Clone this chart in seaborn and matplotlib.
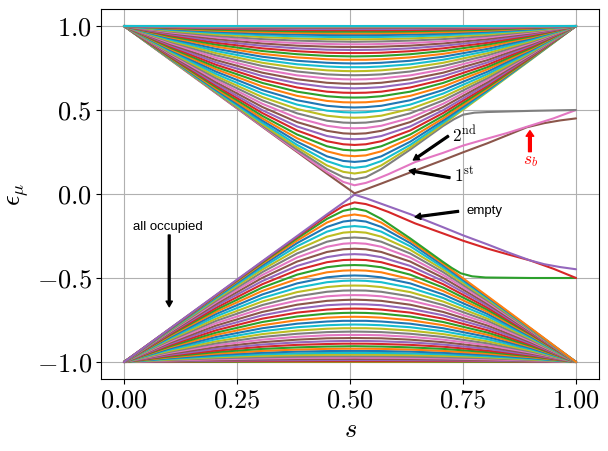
"""Single-particle levels eps_mu(s) along the interpolation path."""

import matplotlib

matplotlib.use("Agg")
import matplotlib.pyplot as plt
import pandas as pd
import seaborn as sns

# shared s nodes of the ordinary levels (the gap closes near s = 0.51)
s_grid = [0.0, 0.102, 0.204, 0.306, 0.383, 0.449, 0.485, 0.51,
          0.535, 0.569, 0.633, 0.706, 0.804, 0.902, 1.0]

# ordinary levels of the upper band, from the gap outwards (mu = 4 .. 45)
upper_levels = [
    [1, .803, .608, .415, .277, .170, .132, .122, .132, .170, .277, .415, .608, .803, 1],
    [1, .806, .613, .425, .292, .196, .164, .156, .164, .196, .292, .425, .613, .806, 1],
    [1, .808, .619, .437, .311, .224, .197, .191, .197, .224, .311, .437, .619, .808, 1],
    [1, .811, .626, .450, .332, .254, .230, .225, .230, .254, .332, .450, .626, .811, 1],
    [1, .815, .635, .465, .354, .284, .263, .259, .263, .284, .354, .465, .635, .815, 1],
    [1, .819, .644, .482, .378, .314, .296, .292, .296, .314, .378, .482, .644, .819, 1],
    [1, .824, .654, .499, .402, .345, .329, .326, .329, .345, .402, .499, .654, .824, 1],
    [1, .828, .665, .518, .428, .376, .361, .358, .361, .376, .428, .518, .665, .828, 1],
    [1, .834, .677, .537, .453, .406, .393, .391, .393, .406, .453, .537, .677, .834, 1],
    [1, .839, .689, .557, .480, .436, .425, .423, .425, .436, .480, .557, .689, .839, 1],
    [1, .845, .701, .577, .506, .466, .456, .454, .456, .466, .506, .577, .701, .845, 1],
    [1, .851, .714, .598, .532, .496, .487, .485, .487, .496, .532, .598, .714, .851, 1],
    [1, .858, .728, .619, .558, .525, .517, .515, .517, .525, .558, .619, .728, .858, 1],
    [1, .864, .742, .640, .584, .554, .546, .545, .546, .554, .584, .640, .742, .864, 1],
    [1, .871, .755, .661, .609, .582, .575, .574, .575, .582, .609, .661, .755, .871, 1],
    [1, .878, .769, .681, .634, .609, .603, .602, .603, .609, .634, .681, .769, .878, 1],
    [1, .885, .783, .702, .659, .636, .631, .629, .631, .636, .659, .702, .783, .885, 1],
    [1, .892, .797, .722, .683, .662, .657, .656, .657, .662, .683, .722, .797, .892, 1],
    [1, .899, .811, .742, .706, .688, .683, .682, .683, .688, .706, .742, .811, .899, 1],
    [1, .906, .825, .762, .729, .712, .708, .707, .708, .712, .729, .762, .825, .906, 1],
    [1, .912, .838, .781, .751, .736, .732, .731, .732, .736, .751, .781, .838, .912, 1],
    [1, .919, .851, .799, .772, .759, .755, .755, .755, .759, .772, .799, .851, .919, 1],
    [1, .926, .864, .817, .793, .781, .778, .777, .778, .781, .793, .817, .864, .926, 1],
    [1, .933, .877, .834, .813, .802, .799, .799, .799, .802, .813, .834, .877, .933, 1],
    [1, .939, .889, .851, .832, .822, .820, .819, .820, .822, .832, .851, .889, .939, 1],
    [1, .945, .900, .867, .850, .841, .839, .839, .839, .841, .850, .867, .900, .945, 1],
    [1, .951, .911, .882, .867, .859, .858, .857, .858, .859, .867, .882, .911, .951, 1],
    [1, .957, .922, .896, .883, .877, .875, .875, .875, .877, .883, .896, .922, .957, 1],
    [1, .962, .932, .909, .898, .893, .891, .891, .891, .893, .898, .909, .932, .962, 1],
    [1, .967, .941, .922, .913, .908, .907, .906, .907, .908, .913, .922, .941, .967, 1],
    [1, .972, .950, .934, .926, .922, .921, .921, .921, .922, .926, .934, .950, .972, 1],
    [1, .977, .958, .945, .938, .935, .934, .934, .934, .935, .938, .945, .958, .977, 1],
    [1, .981, .966, .954, .949, .946, .946, .946, .946, .946, .949, .954, .966, .981, 1],
    [1, .985, .972, .963, .959, .957, .956, .956, .956, .957, .959, .963, .972, .985, 1],
    [1, .988, .978, .972, .968, .966, .966, .966, .966, .966, .968, .972, .978, .988, 1],
    [1, .991, .984, .979, .976, .975, .975, .974, .975, .975, .976, .979, .984, .991, 1],
    [1, .993, .988, .985, .983, .982, .982, .982, .982, .982, .983, .985, .988, .993, 1],
    [1, .996, .992, .990, .989, .988, .988, .988, .988, .988, .989, .990, .992, .996, 1],
    [1, .997, .995, .994, .993, .993, .993, .993, .993, .993, .993, .994, .995, .997, 1],
    [1, .999, .998, .997, .996, .996, .996, .996, .996, .996, .996, .997, .998, .999, 1],
    [1, 1.0, .999, .999, .999, .999, .999, .999, .999, .999, .999, .999, .999, 1.0, 1],
    [1, 1.0, 1.0, 1.0, 1.0, 1.0, 1.0, .9998, 1.0, 1.0, 1.0, 1.0, 1.0, 1.0, 1],
]

# ordinary levels of the lower band, from the gap outwards (mu = 4 .. 45)
lower_levels = [
    [-1, -.803, -.608, -.415, -.277, -.170, -.132, -.122, -.132, -.170, -.277, -.415, -.608, -.803, -1],
    [-1, -.806, -.613, -.425, -.292, -.196, -.164, -.156, -.164, -.196, -.292, -.425, -.613, -.806, -1],
    [-1, -.808, -.619, -.437, -.311, -.224, -.197, -.191, -.197, -.224, -.311, -.437, -.619, -.808, -1],
    [-1, -.811, -.626, -.450, -.332, -.254, -.230, -.225, -.230, -.254, -.332, -.450, -.626, -.811, -1],
    [-1, -.815, -.635, -.465, -.354, -.284, -.263, -.259, -.263, -.284, -.354, -.465, -.635, -.815, -1],
    [-1, -.819, -.644, -.482, -.378, -.314, -.296, -.292, -.296, -.314, -.378, -.482, -.644, -.819, -1],
    [-1, -.824, -.654, -.499, -.402, -.345, -.329, -.326, -.329, -.345, -.402, -.499, -.654, -.824, -1],
    [-1, -.828, -.665, -.518, -.428, -.376, -.361, -.358, -.361, -.376, -.428, -.518, -.665, -.828, -1],
    [-1, -.834, -.677, -.537, -.453, -.406, -.393, -.391, -.393, -.406, -.453, -.537, -.677, -.834, -1],
    [-1, -.839, -.689, -.557, -.480, -.436, -.425, -.423, -.425, -.436, -.480, -.557, -.689, -.839, -1],
    [-1, -.845, -.701, -.577, -.506, -.466, -.456, -.454, -.456, -.466, -.506, -.577, -.701, -.845, -1],
    [-1, -.851, -.714, -.598, -.532, -.496, -.487, -.485, -.487, -.496, -.532, -.598, -.714, -.851, -1],
    [-1, -.858, -.728, -.619, -.558, -.525, -.517, -.515, -.517, -.525, -.558, -.619, -.728, -.858, -1],
    [-1, -.864, -.742, -.640, -.584, -.554, -.546, -.545, -.546, -.554, -.584, -.640, -.742, -.864, -1],
    [-1, -.871, -.755, -.661, -.609, -.582, -.575, -.574, -.575, -.582, -.609, -.661, -.755, -.871, -1],
    [-1, -.878, -.769, -.681, -.634, -.609, -.603, -.602, -.603, -.609, -.634, -.681, -.769, -.878, -1],
    [-1, -.885, -.783, -.702, -.659, -.636, -.631, -.629, -.631, -.636, -.659, -.702, -.783, -.885, -1],
    [-1, -.892, -.797, -.722, -.683, -.662, -.657, -.656, -.657, -.662, -.683, -.722, -.797, -.892, -1],
    [-1, -.899, -.811, -.742, -.706, -.688, -.683, -.682, -.683, -.688, -.706, -.742, -.811, -.899, -1],
    [-1, -.906, -.825, -.762, -.729, -.712, -.708, -.707, -.708, -.712, -.729, -.762, -.825, -.906, -1],
    [-1, -.912, -.838, -.781, -.751, -.736, -.732, -.731, -.732, -.736, -.751, -.781, -.838, -.912, -1],
    [-1, -.919, -.851, -.799, -.772, -.759, -.755, -.755, -.755, -.759, -.772, -.799, -.851, -.919, -1],
    [-1, -.926, -.864, -.817, -.793, -.781, -.778, -.777, -.778, -.781, -.793, -.817, -.864, -.926, -1],
    [-1, -.933, -.877, -.834, -.813, -.802, -.799, -.799, -.799, -.802, -.813, -.834, -.877, -.933, -1],
    [-1, -.939, -.889, -.851, -.832, -.822, -.820, -.819, -.820, -.822, -.832, -.851, -.889, -.939, -1],
    [-1, -.945, -.900, -.867, -.850, -.841, -.839, -.839, -.839, -.841, -.850, -.867, -.900, -.945, -1],
    [-1, -.951, -.911, -.882, -.867, -.859, -.858, -.857, -.858, -.859, -.867, -.882, -.911, -.951, -1],
    [-1, -.957, -.922, -.896, -.883, -.877, -.875, -.875, -.875, -.877, -.883, -.896, -.922, -.957, -1],
    [-1, -.962, -.932, -.909, -.898, -.893, -.891, -.891, -.891, -.893, -.898, -.909, -.932, -.962, -1],
    [-1, -.967, -.941, -.922, -.913, -.908, -.907, -.906, -.907, -.908, -.913, -.922, -.941, -.967, -1],
    [-1, -.972, -.950, -.934, -.926, -.922, -.921, -.921, -.921, -.922, -.926, -.934, -.950, -.972, -1],
    [-1, -.977, -.958, -.945, -.938, -.935, -.934, -.934, -.934, -.935, -.938, -.945, -.958, -.977, -1],
    [-1, -.981, -.966, -.954, -.949, -.946, -.946, -.946, -.946, -.946, -.949, -.954, -.966, -.981, -1],
    [-1, -.985, -.972, -.963, -.959, -.957, -.956, -.956, -.956, -.957, -.959, -.963, -.972, -.985, -1],
    [-1, -.988, -.978, -.972, -.968, -.966, -.966, -.966, -.966, -.966, -.968, -.972, -.978, -.988, -1],
    [-1, -.991, -.984, -.979, -.976, -.975, -.975, -.974, -.975, -.975, -.976, -.979, -.984, -.991, -1],
    [-1, -.993, -.988, -.985, -.983, -.982, -.982, -.982, -.982, -.982, -.983, -.985, -.988, -.993, -1],
    [-1, -.996, -.992, -.990, -.989, -.988, -.988, -.988, -.988, -.988, -.989, -.990, -.992, -.996, -1],
    [-1, -.997, -.995, -.994, -.993, -.993, -.993, -.993, -.993, -.993, -.993, -.994, -.995, -.997, -1],
    [-1, -.999, -.998, -.997, -.996, -.996, -.996, -.996, -.996, -.996, -.996, -.997, -.998, -.999, -1],
    [-1, -1.0, -.999, -.999, -.999, -.999, -.999, -.999, -.999, -.999, -.999, -.999, -.999, -1.0, -1],
    [-1, -1.0, -1.0, -1.0, -1.0, -1.0, -1.0, -.9998, -1.0, -1.0, -1.0, -1.0, -1.0, -1.0, -1],
]

# the three levels next to the gap on each side
first_up_s = [0, .102, .204, .306, .383, .449, .485, .51, .535, .569, .633, .706, .75, .804, .85, .891, .93, .965, 1]
first_up_e = [1, .8, .6, .4, .25, .121, .052, .004, .028, .062, .128, .202, .248, .302, .352, .397, .422, .438, .45]
second_up_s = [0, .102, .204, .306, .383, .449, .485, .51, .535, .555, .585, .644, .706, .75, .804, .85, .891, .95, 1]
second_up_e = [1, .801, .602, .403, .255, .131, .072, .052, .066, .085, .118, .19, .245, .288, .33, .365, .40, .45, .5]
third_up_s = [0, .102, .204, .306, .383, .449, .485, .51, .535, .569, .633, .706, .73, .75, .775, .804, .902, 1]
third_up_e = [1, .802, .604, .408, .264, .148, .100, .087, .100, .148, .264, .405, .445, .472, .484, .488, .495, .5]

first_low_s = [0, .102, .204, .306, .383, .449, .485, .51, .535, .569, .633, .706, .75, .804, .85, .898, .93, .965, 1]
first_low_e = [-1, -.8, -.6, -.4, -.25, -.121, -.052, -.004, -.025, -.058, -.12, -.198, -.246, -.3, -.348, -.395, -.418, -.435, -.448]
second_low_s = [0, .102, .204, .306, .383, .449, .485, .51, .535, .555, .585, .644, .706, .75, .804, .85, .898, .95, 1]
second_low_e = [-1, -.801, -.602, -.403, -.255, -.131, -.072, -.05, -.06, -.077, -.107, -.175, -.235, -.278, -.325, -.36, -.395, -.445, -.5]
third_low_s = [0, .102, .204, .306, .383, .449, .485, .51, .535, .569, .633, .706, .725, .745, .77, .8, .9, 1]
third_low_e = [-1, -.802, -.604, -.408, -.264, -.148, -.100, -.087, -.100, -.148, -.264, -.405, -.44, -.472, -.49, -.497, -.5, -.5]

x_ticks = [0.0, 0.25, 0.5, 0.75, 1.0]
y_ticks = [-1.0, -0.5, 0.0, 0.5, 1.0]

sns.set_theme(style="ticks", rc={
    "axes.edgecolor": "black",
    "axes.linewidth": 0.8,
    "xtick.major.size": 3.5,
    "ytick.major.size": 3.5,
    "xtick.major.width": 0.8,
    "ytick.major.width": 0.8,
    "text.color": "black",
    "xtick.color": "black",
    "ytick.color": "black",
    "axes.labelcolor": "black",
})
plt.rcParams["mathtext.fontset"] = "cm"
plt.rcParams["font.family"] = ["Liberation Sans", "DejaVu Sans"]

# level order from the bottom of the spectrum to the top
curves = [(s_grid, row) for row in lower_levels[::-1]]
curves += [(third_low_s, third_low_e), (second_low_s, second_low_e), (first_low_s, first_low_e)]
curves += [(first_up_s, first_up_e), (second_up_s, second_up_e), (third_up_s, third_up_e)]
curves += [(s_grid, row) for row in upper_levels]

levels = pd.concat(
    [pd.DataFrame({"s": xs, "energy": ys, "level": i}) for i, (xs, ys) in enumerate(curves)],
    ignore_index=True,
)
tab10 = sns.color_palette("tab10")
palette = {i: tab10[i % 10] for i in range(len(curves))}

fig = plt.figure(figsize=(6.08, 4.51), dpi=100)
ax = fig.add_axes([0.1668, 0.1601, 0.8178, 0.8195])
ax.set_axisbelow(True)
ax.grid(True, color="#b0b0b0", linewidth=0.8)
sns.lineplot(data=levels, x="s", y="energy", hue="level", palette=palette,
             estimator=None, sort=False, legend=False, linewidth=1.5, ax=ax)

ax.set_xlim(-0.05, 1.05)
ax.set_ylim(-1.1, 1.1)
ax.set_xticks(x_ticks, labels=[f"${t:.2f}$" for t in x_ticks])
ax.set_yticks(y_ticks, labels=[f"${t:.1f}$" for t in y_ticks])
ax.tick_params(labelsize=19)
ax.set_xlabel(r"$s$", fontsize=19)
ax.set_ylabel(r"$\epsilon_\mu$", fontsize=19)

black_arrow = dict(facecolor="black", edgecolor="black", width=1.3, headwidth=4.5, headlength=4, shrink=0)
ax.annotate("", xy=(0.10, -0.671), xytext=(0.10, -0.244), arrowprops=black_arrow)
ax.text(0.098, -0.199, "all occupied", fontsize=9.5, ha="center", va="center")
ax.annotate("", xy=(0.644, -0.137), xytext=(0.74, -0.103), arrowprops=black_arrow)
ax.text(0.757, -0.101, "empty", fontsize=9.5, ha="left", va="center")
ax.annotate("", xy=(0.640, 0.202), xytext=(0.7175, 0.345), arrowprops=black_arrow)
ax.text(0.725, 0.357, r"$2^{\mathrm{nd}}$", fontsize=12.5, ha="left", va="center")
ax.annotate("", xy=(0.631, 0.139), xytext=(0.721, 0.097), arrowprops=black_arrow)
ax.text(0.730, 0.119, r"$1^{\mathrm{st}}$", fontsize=12.5, ha="left", va="center")
ax.annotate("", xy=(0.898, 0.377), xytext=(0.898, 0.252),
            arrowprops=dict(facecolor="red", edgecolor="red", width=2, headwidth=5.5, headlength=4, shrink=0))
ax.text(0.900, 0.196, r"$s_b$", fontsize=12.5, color="red", ha="center", va="center")

fig.savefig("out.png", dpi=100)
